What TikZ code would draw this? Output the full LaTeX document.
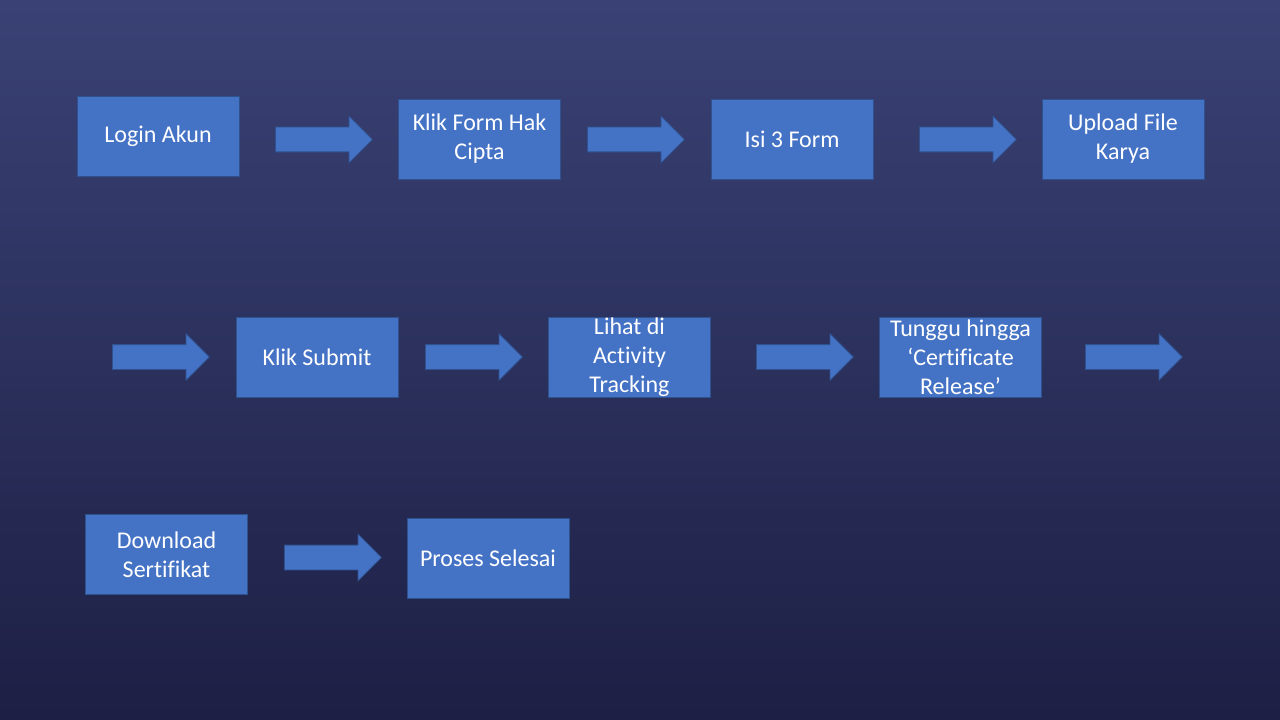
\documentclass[tikz,border=0pt]{standalone}
\usepackage{fontspec}
\setmainfont{Carlito}[Ligatures=NoCommon]
\usetikzlibrary{shapes.arrows}
\definecolor{bgtop}{HTML}{3A4275}
\definecolor{bgbot}{HTML}{1D1F44}
\definecolor{boxfill}{HTML}{4472C4}
\definecolor{boxline}{HTML}{2F528F}
\tikzset{
  stepbox/.style={rectangle, fill=boxfill, draw=boxline, line width=0.6pt,
    minimum width=121.5pt, minimum height=60pt, inner sep=0pt,
    align=center, text=white,
    font=\fontsize{18pt}{21.6pt}\selectfont},
  flowarrow/.style={single arrow, fill=boxfill, draw=boxline, line width=0.6pt,
    minimum height=72.75pt, inner xsep=0pt, inner ysep=9pt,
    single arrow head extend=8.25pt, single arrow tip angle=90, anchor=tail}
}
\begin{document}
\begin{tikzpicture}[x=0.75pt,y=-0.75pt]
\shade[top color=bgtop, bottom color=bgbot] (0,0) rectangle (1280,720);
\useasboundingbox (0,0) rectangle (1280,720);
% row 1
\node[stepbox] (login) at (158,136) {Login Akun};
\node[flowarrow] (a1) at (275,139.5) {};
\node[stepbox] (klikform) at (479.5,139) {Klik Form Hak\\Cipta};
\node[flowarrow] (a2) at (587,139.5) {};
\node[stepbox] (isi) at (792,139) {Isi 3 Form};
\node[flowarrow] (a3) at (919,139.5) {};
\node[stepbox] (upload) at (1123,139) {Upload File\\Karya};
% row 2
\node[flowarrow] (a4) at (112,357) {};
\node[stepbox] (submit) at (317,357) {Klik Submit};
\node[flowarrow] (a5) at (425,357) {};
\node[stepbox] (lihat) at (629.5,357) {Lihat di\\Activity\\Tracking};
\node[flowarrow] (a6) at (756,357) {};
\node[stepbox] (tunggu) at (960.5,357) {Tunggu hingga\\‘Certificate\\Release’};
\node[flowarrow] (a7) at (1085,357) {};
% row 3
\node[stepbox] (download) at (166.5,554.5) {Download\\Sertifikat};
\node[flowarrow] (a8) at (284,557.5) {};
\node[stepbox] (proses) at (488,558) {Proses Selesai};
\end{tikzpicture}
\end{document}
